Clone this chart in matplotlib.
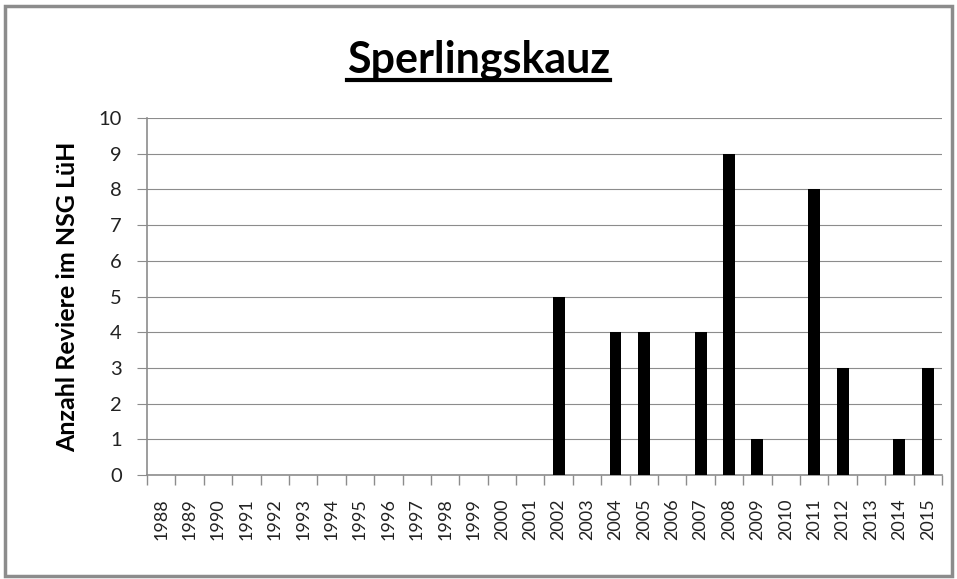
import numpy as np
import matplotlib.pyplot as plt
from matplotlib.patches import Rectangle
from matplotlib.lines import Line2D

# Data
years = [str(y) for y in range(1988, 2016)]
counts = [0] * 14 + [5, 0, 4, 4, 0, 4, 9, 1, 0, 8, 3, 0, 1, 3]

title = 'Sperlingskauz'
ylabel = 'Anzahl Reviere im NSG LüH'

plt.rcParams['font.family'] = ['Lato', 'DejaVu Sans']

fig = plt.figure(figsize=(9.57, 5.79), dpi=100)
ax = fig.add_axes([0.1536, 0.1796, 0.8307, 0.6164])

x = np.arange(len(years))
ax.bar(x, counts, width=0.42, color='black', zorder=3)

ax.set_xlim(-0.5, len(years) - 0.5)
ax.set_ylim(0, 10)
ax.set_yticks(range(0, 11))
ax.yaxis.grid(True, color='#8c8c8c', linewidth=0.8, zorder=0)

# category labels, ticks between categories
ax.set_xticks(x)
ax.set_xticklabels(years, rotation=90, fontsize=13, color='#222222')
ax.tick_params(axis='x', length=0, pad=17)
ax.set_xticks(np.arange(-0.5, len(years)), minor=True)
ax.tick_params(axis='x', which='minor', length=7, color='#8c8c8c', width=1)
ax.tick_params(axis='y', length=7, color='#8c8c8c', labelsize=14.5, labelcolor='#222222', pad=11)

for side in ['top', 'right']:
    ax.spines[side].set_visible(False)
for side in ['left', 'bottom']:
    ax.spines[side].set_color('#8c8c8c')
    ax.spines[side].set_linewidth(1.2)

ax.set_ylabel(ylabel, fontsize=18, fontweight='bold', labelpad=14)

t = fig.text(0.5, 0.8756, title, ha='center', va='baseline', fontsize=31, fontweight='bold')

# underline the title
fig.canvas.draw()
bb = t.get_window_extent().transformed(fig.transFigure.inverted())
fig.add_artist(Line2D([bb.x0, bb.x1], [0.862, 0.862], color='black',
                      linewidth=3, transform=fig.transFigure))

# chart border
fig.add_artist(Rectangle((0.005, 0.005), 0.99, 0.985, fill=False, edgecolor='#8c8c8c',
                         linewidth=2.5, transform=fig.transFigure))

fig.savefig('out.png', dpi=100)
